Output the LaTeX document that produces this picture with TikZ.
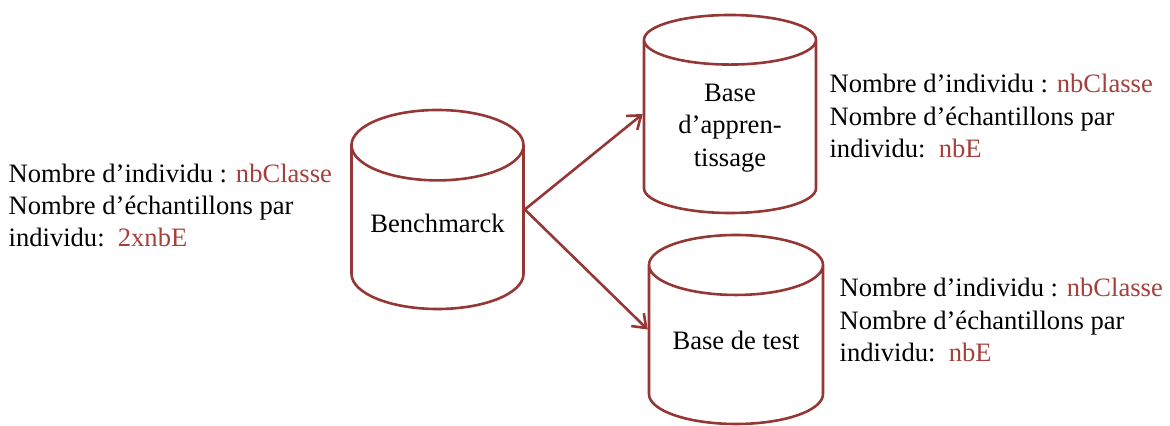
\documentclass[tikz,border=0pt]{standalone}
\usepackage{fontspec}
\setmainfont{Liberation Serif}
\usepackage{xcolor}
\usetikzlibrary{arrows.meta,positioning,shapes.geometric}
\definecolor{basered}{RGB}{149,55,53}
\definecolor{valred}{RGB}{165,64,61}
\newcommand{\valeur}[1]{\textcolor{valred}{#1}}

\begin{document}
\begin{tikzpicture}[x=0.25mm,y=-0.25mm,base/.style={cylinder,shape border rotate=90,anchor=shape center,draw=basered,line width=0.65mm,minimum width=43mm,text depth=5mm,align=center,font=\fontsize{18.9}{23}\selectfont},info/.style={align=left,inner sep=0pt,font=\fontsize{18.9}{23}\selectfont},arr/.style={-{Straight Barb[length=3mm,width=4.5mm]},line width=0.65mm,draw=basered}]
\useasboundingbox (0,0) rectangle (1170,426);
\node[base,minimum height=49.75mm,aspect=0.49] (bench) at (437.5,209.5) {Benchmarck};
\node[base,minimum height=49.5mm,aspect=0.44,text depth=3mm] (appr) at (730,114) {Base\\d’appren-\\tissage};
\node[base,minimum height=47.25mm,minimum width=43.5mm,aspect=0.44] (test) at (736,329.5) {Base de test};
\node[info,left=4.5mm of bench,yshift=7mm] (ibench) {Nombre d’individu : \valeur{nbClasse}\\Nombre d’échantillons par\\individu:\ \ \valeur{2xnbE}};
\node[info,right=3mm of appr,yshift=3.75mm] (iappr) {Nombre d’individu : \valeur{nbClasse}\\Nombre d’échantillons par\\individu:\ \ \valeur{nbE}};
\node[info,right=3.75mm of test,yshift=7.5mm] (itest) {Nombre d’individu : \valeur{nbClasse}\\Nombre d’échantillons par\\individu:\ \ \valeur{nbE}};
\draw[arr] (bench.shape center -| bench.east)--(appr.shape center -| appr.west);
\draw[arr] (bench.shape center -| bench.east)--(test.shape center -| test.west);
\end{tikzpicture}
\end{document}
